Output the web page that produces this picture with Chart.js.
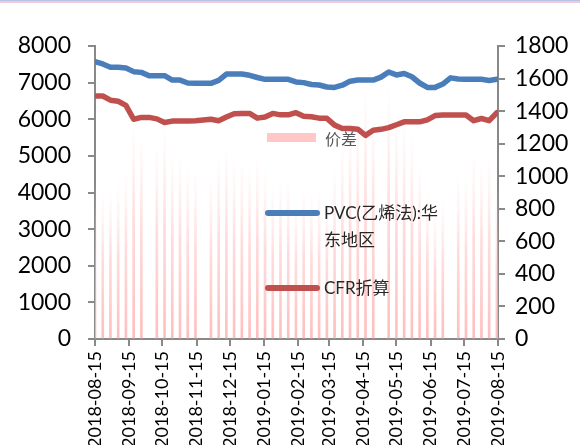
<!DOCTYPE html>
<html>
<head>
<meta charset="utf-8">
<script src="https://cdn.jsdelivr.net/npm/chart.js@4.4.1/dist/chart.umd.min.js"></script>
<style>
  html, body { margin: 0; padding: 0; background: #fff; overflow: hidden; }
  #wrap { position: relative; width: 580px; height: 445px; overflow: hidden; }
  #c { position: absolute; left: 0; top: 0; }
  #topline { position: absolute; left: 0; top: 0; width: 580px; height: 1px; background: #b7c2e6; border-bottom: 2px solid #f2cad6; }
  .sw { position: absolute; }
  .lg { position: absolute; font-family: Lato, 'Noto Sans CJK SC', sans-serif; font-size: 17px; color: #262626; line-height: 27px; white-space: nowrap; }
</style>
</head>
<body>
<div id="wrap">
  <canvas id="c" width="580" height="445"></canvas>
  <div id="topline"></div>
  <div class="sw" style="left:267px;top:133px;width:49px;height:9px;background:#ffc7c7;"></div>
  <div class="lg" style="left:325px;top:125px;color:#595959;font-family:'Noto Sans CJK SC',sans-serif;font-size:16px;">价差</div>
  <div class="sw" style="left:265px;top:210px;width:55px;height:6px;border-radius:3px;background:#4a7ebb;"></div>
  <div class="lg" style="left:324px;top:199px;">PVC(乙烯法):华<br>东地区</div>
  <div class="sw" style="left:265px;top:285px;width:55px;height:6px;border-radius:3px;background:#c0504d;"></div>
  <div class="lg" style="left:324px;top:274px;">CFR折算</div>
</div>
<script>
// Weekly observation dates
const dates = [
  '2018-08-15','2018-08-22','2018-08-29','2018-09-05','2018-09-12','2018-09-19','2018-09-26',
  '2018-10-03','2018-10-10','2018-10-17','2018-10-24','2018-10-31','2018-11-07','2018-11-14',
  '2018-11-21','2018-11-28','2018-12-05','2018-12-12','2018-12-19','2018-12-26','2019-01-02',
  '2019-01-09','2019-01-16','2019-01-23','2019-01-30','2019-02-06','2019-02-13','2019-02-20',
  '2019-02-27','2019-03-06','2019-03-13','2019-03-20','2019-03-27','2019-04-03','2019-04-10',
  '2019-04-17','2019-04-24','2019-05-01','2019-05-08','2019-05-15','2019-05-22','2019-05-29',
  '2019-06-05','2019-06-12','2019-06-19','2019-06-26','2019-07-03','2019-07-10','2019-07-17',
  '2019-07-24','2019-07-31','2019-08-07','2019-08-14'
];

// PVC (ethylene process), East China, yuan/t
const pvcPrice = [
  7570, 7510, 7420, 7420, 7400, 7300, 7280, 7190, 7190, 7190, 7070, 7070, 6990, 6980,
  6980, 6980, 7060, 7235, 7235, 7235, 7200, 7140, 7090, 7090, 7090, 7090, 7020, 7000,
  6950, 6935, 6880, 6870, 6930, 7040, 7070, 7070, 7070, 7150, 7290, 7210, 7250, 7160,
  6990, 6870, 6870, 6960, 7130, 7100, 7090, 7090, 7090, 7060, 7090
];

// CFR converted price, yuan/t
const cfrPrice = [
  6635, 6635, 6520, 6490, 6380, 6000, 6050, 6050, 6010, 5910, 5950, 5950, 5950, 5960,
  5980, 6000, 5960, 6060, 6150, 6160, 6160, 6030, 6060, 6160, 6120, 6120, 6180, 6080,
  6070, 6030, 6025, 5840, 5750, 5750, 5730, 5560, 5700, 5725, 5770, 5850, 5930, 5930,
  5930, 5985, 6100, 6115, 6115, 6115, 6115, 5960, 6020, 5960, 6180
];

// Spread (right axis); null = no quote that week
const spread = [
  935, 875, 900, 930, 1020, 1300, 1230, null, 1180, 1280, 1120, 1120, 1040, 1020,
  null, 980, 1100, 1175, 1085, 1075, 1040, 1110, 1030, 930, 970, 970, 840, 920,
  880, 905, 855, 1030, 1180, 1290, 1340, 1510, 1370, null, 1520, 1360, 1320, 1230,
  1060, 885, 770, 845, null, 985, 975, 1130, 1070, 1100, 910
];

const monthTicks = [
  '2018-08-15','2018-09-15','2018-10-15','2018-11-15','2018-12-15','2019-01-15',
  '2019-02-15','2019-03-15','2019-04-15','2019-05-15','2019-06-15','2019-07-15','2019-08-15'
];
const leftTicks = { min: 0, max: 8000, step: 1000 };
const rightTicks = { min: 0, max: 1800, step: 200 };

const DAY = 86400000;
const origin = Date.parse(dates[0]);
const dayOf = d => Math.round((Date.parse(d) - origin) / DAY);
const tickLabel = {};
monthTicks.forEach(d => { tickLabel[dayOf(d)] = d; });

const xy = arr => dates.map((d, i) => ({ x: dayOf(d), y: arr[i] }));

const AXIS = '#898989';
const FONT = 'Lato, "Noto Sans CJK SC", sans-serif';

// each spread bar fades out towards its top
function barFill(ctx) {
  const chart = ctx.chart;
  const s = chart.scales && chart.scales.y2;
  if (!s || ctx.type !== 'data' || !ctx.raw || ctx.raw.y == null) return '#ffc7c7';
  const base = s.getPixelForValue(0);
  const top = s.getPixelForValue(ctx.raw.y);
  if (!isFinite(base) || !isFinite(top) || base === top) return '#ffc7c7';
  const g = chart.ctx.createLinearGradient(0, base, 0, top);
  g.addColorStop(0, 'rgba(255,182,182,0.9)');
  g.addColorStop(0.55, 'rgba(255,192,192,0.55)');
  g.addColorStop(1, 'rgba(255,215,215,0.03)');
  return g;
}

function axisGrid() {
  return { drawOnChartArea: false, drawTicks: true, tickLength: 7, color: AXIS, lineWidth: 2, offset: false };
}

new Chart(document.getElementById('c'), {
  type: 'bar',
  data: {
    datasets: [
      {
        type: 'line', label: 'PVC(乙烯法):华东地区', data: xy(pvcPrice), yAxisID: 'y',
        borderColor: '#4a7ebb', borderWidth: 5.5, pointRadius: 0, tension: 0,
        borderCapStyle: 'round', borderJoinStyle: 'round', order: 1
      },
      {
        type: 'line', label: 'CFR折算', data: xy(cfrPrice), yAxisID: 'y',
        borderColor: '#c0504d', borderWidth: 5.5, pointRadius: 0, tension: 0,
        borderCapStyle: 'round', borderJoinStyle: 'round', order: 2
      },
      {
        type: 'bar', label: '价差', data: xy(spread), yAxisID: 'y2',
        backgroundColor: barFill, barThickness: 2, borderWidth: 0, order: 3
      }
    ]
  },
  options: {
    responsive: false,
    animation: false,
    layout: { padding: { top: 46, left: 0, right: 0, bottom: 0 } },
    plugins: { legend: { display: false }, tooltip: { enabled: false } },
    scales: {
      x: {
        type: 'linear', position: 'bottom', min: 0, max: dayOf(monthTicks[monthTicks.length - 1]),
        offset: false,
        grid: axisGrid(),
        border: { display: true, color: AXIS, width: 2 },
        afterBuildTicks: s => { s.ticks = monthTicks.map(d => ({ value: dayOf(d) })); },
        ticks: {
          autoSkip: false, maxRotation: 90, minRotation: 90, padding: 5,
          color: '#000', font: { family: FONT, size: 18 },
          callback: v => tickLabel[v] || ''
        },
        afterFit: s => { s.height = 106; }
      },
      y: {
        type: 'linear', position: 'left', min: leftTicks.min, max: leftTicks.max,
        grid: axisGrid(),
        border: { display: true, color: AXIS, width: 2 },
        ticks: { stepSize: leftTicks.step, padding: 17, color: '#000', font: { family: FONT, size: 23 },
                 callback: v => String(v) },
        afterFit: s => { s.width = 95; }
      },
      y2: {
        type: 'linear', position: 'right', min: rightTicks.min, max: rightTicks.max,
        grid: axisGrid(),
        border: { display: true, color: AXIS, width: 2 },
        ticks: { stepSize: rightTicks.step, padding: 10, color: '#000', font: { family: FONT, size: 23 },
                 callback: v => String(v) },
        afterFit: s => { s.width = 82; }
      }
    }
  }
});
</script>
</body>
</html>
